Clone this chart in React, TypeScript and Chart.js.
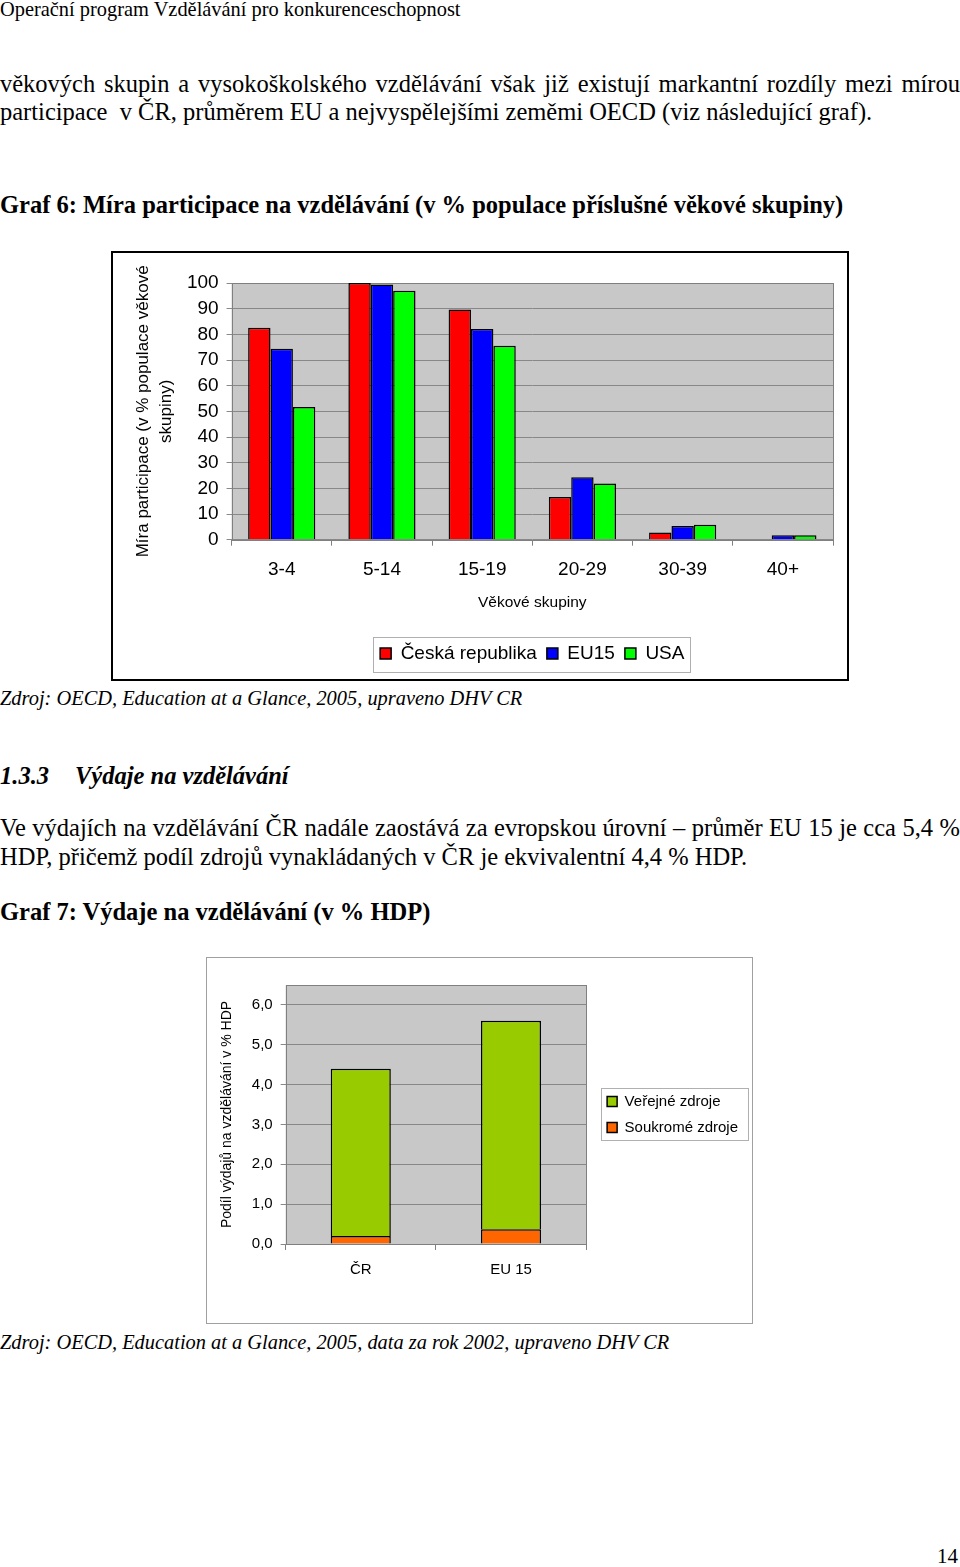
import React, { useEffect, useRef } from 'react';
import { Chart, registerables } from 'chart.js';

Chart.register(...registerables);

// ---------- data: Graf 6 ----------
const ageGroups = ['3-4', '5-14', '15-19', '20-29', '30-39', '40+'];
const czValues = [82.6, 100, 89.7, 16.6, 2.8, null];
const eu15Values = [74.4, 99.4, 82.1, 24.3, 5.3, 1.7];
const usaValues = [51.7, 97.0, 75.6, 21.9, 5.8, 1.7];
const participationSeries = ['Česká republika', 'EU15', 'USA'];

// ---------- data: Graf 7 ----------
const regions = ['ČR', 'EU 15'];
const publicValues = [4.2, 5.23];
const privateValues = [0.2, 0.37];
const spendingSeries = ['Veřejné zdroje', 'Soukromé zdroje'];

const SANS = '"Liberation Sans", Arial, sans-serif';
const SERIF = '"Liberation Serif", "Times New Roman", serif';

const plotBg = {
  id: 'plotBg',
  beforeDraw(chart: any, _a: any, opts: any) {
    const { ctx, chartArea: a } = chart;
    ctx.save();
    ctx.fillStyle = opts.color;
    ctx.fillRect(a.left, a.top, a.width, a.height);
    ctx.restore();
  },
  beforeDatasetsDraw(chart: any, _a: any, opts: any) {
    const { ctx, chartArea: a } = chart;
    ctx.save();
    ctx.strokeStyle = opts.border;
    ctx.lineWidth = 1;
    ctx.strokeRect(Math.round(a.left) + 0.5, Math.round(a.top) + 0.5, Math.round(a.width), Math.round(a.height));
    ctx.restore();
  },
};

const legendShift = {
  id: 'legendShift',
  afterLayout(chart: any, _a: any, opts: any) {
    const lg = chart.legend;
    if (!lg || !opts || !opts.dx) return;
    lg.left += opts.dx;
    lg.right += opts.dx;
  },
};

const legendFrame = {
  id: 'legendFrame',
  afterDraw(chart: any, _a: any, opts: any) {
    const lg = chart.legend;
    if (!lg || !lg.legendHitBoxes || !lg.legendHitBoxes.length) return;
    let x0 = Infinity, y0 = Infinity, x1 = -Infinity, y1 = -Infinity;
    lg.legendHitBoxes.forEach((h: any) => {
      x0 = Math.min(x0, h.left);
      y0 = Math.min(y0, h.top);
      x1 = Math.max(x1, h.left + h.width);
      y1 = Math.max(y1, h.top + h.height);
    });
    const { ctx } = chart;
    ctx.save();
    ctx.strokeStyle = opts.color;
    ctx.lineWidth = 1;
    ctx.strokeRect(
      Math.round(x0 - opts.padL) + 0.5,
      Math.round(y0 - opts.padT) + 0.5,
      Math.round(x1 - x0 + opts.padL + opts.padR),
      Math.round(y1 - y0 + opts.padT + opts.padB)
    );
    ctx.restore();
  },
};

function ParticipationChart() {
  const ref = useRef<HTMLCanvasElement>(null);
  useEffect(() => {
    const colors = ['#ff0000', '#0000ff', '#00ff00'];
    const values = [czValues, eu15Values, usaValues];
    const chart = new Chart(ref.current as HTMLCanvasElement, {
      type: 'bar',
      data: {
        labels: ageGroups,
        datasets: participationSeries.map((name, i) => ({
          label: name,
          data: values[i] as any,
          backgroundColor: colors[i],
          borderColor: '#000000',
          borderWidth: 1.5,
          categoryPercentage: 0.67,
          barPercentage: 1,
        })),
      },
      options: {
        animation: false,
        responsive: false,
        devicePixelRatio: 1,
        layout: { padding: { left: 19, right: 14, top: 30, bottom: 6 } },
        scales: {
          x: {
            grid: { display: true, drawOnChartArea: false, tickLength: 6, color: '#808080' },
            border: { display: false },
            ticks: { font: { family: SANS, size: 19 }, color: '#000', padding: 13, autoSkip: false },
            title: {
              display: true,
              text: 'Věkové skupiny',
              font: { family: SANS, size: 15.5, lineHeight: 1.0 },
              color: '#000',
              padding: { top: 0, bottom: 24 },
            },
          },
          y: {
            min: 0,
            max: 100,
            ticks: { stepSize: 10, font: { family: SANS, size: 19 }, color: '#000', padding: 8, autoSkip: false },
            grid: { color: '#888888', tickLength: 5 },
            border: { display: false },
            title: {
              display: true,
              text: ['Míra participace (v % populace věkové', 'skupiny)'],
              font: { family: SANS, size: 17, lineHeight: 1.35 },
              color: '#000',
              padding: { top: 0, bottom: 1 },
            },
          },
        },
        plugins: {
          legend: {
            position: 'bottom',
            fullSize: false,
            labels: {
              boxWidth: 11,
              boxHeight: 11,
              color: '#000',
              font: { family: SANS, size: 19 },
              padding: 10,
            },
          },
          tooltip: { enabled: false },
          plotBg: { color: '#c8c8c8', border: '#808080' },
          legendFrame: { color: '#b0b0b0', padL: 7, padR: 6, padT: 7, padB: 9 },
        } as any,
      },
      plugins: [plotBg, legendFrame],
    });
    return () => chart.destroy();
  }, []);
  return <canvas ref={ref} width={734} height={426} style={{ display: 'block' }} />;
}

function SpendingChart() {
  const ref = useRef<HTMLCanvasElement>(null);
  useEffect(() => {
    const chart = new Chart(ref.current as HTMLCanvasElement, {
      type: 'bar',
      data: {
        labels: regions,
        datasets: [
          {
            label: spendingSeries[1],
            data: privateValues,
            backgroundColor: '#ff6600',
            borderColor: '#000000',
            borderWidth: 1.5,
            categoryPercentage: 0.4,
            barPercentage: 1,
          },
          {
            label: spendingSeries[0],
            data: publicValues,
            backgroundColor: '#99cc00',
            borderColor: '#000000',
            borderWidth: 1.5,
            categoryPercentage: 0.4,
            barPercentage: 1,
          },
        ],
      },
      options: {
        animation: false,
        responsive: false,
        devicePixelRatio: 1,
        layout: { padding: { left: 12, right: 14, top: 27, bottom: 33 } },
        scales: {
          x: {
            stacked: true,
            grid: { display: true, drawOnChartArea: false, tickLength: 6, color: '#808080' },
            border: { display: false },
            ticks: { font: { family: SANS, size: 15 }, color: '#000', padding: 11 },
          },
          y: {
            stacked: true,
            min: 0,
            max: 6.5,
            afterBuildTicks: (s: any) => {
              s.ticks = s.ticks.filter((t: any) => Number.isInteger(t.value));
            },
            ticks: {
              stepSize: 1,
              autoSkip: false,
              font: { family: SANS, size: 15 },
              color: '#000',
              padding: 8,
              callback: (v: any) => Number(v).toFixed(1).replace('.', ','),
            },
            grid: { color: '#888888', tickLength: 5 },
            border: { display: false },
            title: {
              display: true,
              text: 'Podíl výdajů na vzdělávání v % HDP',
              font: { family: SANS, size: 14 },
              color: '#000',
              padding: { top: 0, bottom: 8 },
            },
          },
        },
        plugins: {
          legend: {
            position: 'right',
            fullSize: false,
            reverse: true,
            maxWidth: 220,
            labels: {
              boxWidth: 10,
              boxHeight: 10,
              color: '#000',
              font: { family: SANS, size: 15 },
              padding: 11,
            },
          },
          tooltip: { enabled: false },
          plotBg: { color: '#c8c8c8', border: '#808080' },
          legendShift: { dx: 10 },
          legendFrame: { color: '#b0b0b0', padL: 6, padR: 10, padT: 6, padB: 5 },
        } as any,
      },
      plugins: [plotBg, legendShift, legendFrame],
    });
    return () => chart.destroy();
  }, []);
  return <canvas ref={ref} width={545} height={365} style={{ display: 'block' }} />;
}

function Line(props: { cy: number; size: number; left?: number; bold?: boolean; italic?: boolean; justify?: boolean; children: any }) {
  const { cy, size, left = 0, bold, italic, justify, children } = props;
  return (
    <div
      style={{
        position: 'absolute',
        left,
        top: cy - size * 0.54,
        width: justify ? 960 : undefined,
        fontFamily: SERIF,
        fontSize: size,
        lineHeight: `${size}px`,
        fontWeight: bold ? 'bold' : 'normal',
        fontStyle: italic ? 'italic' : 'normal',
        whiteSpace: justify ? 'normal' : 'pre',
        textAlign: justify ? 'justify' : 'left',
        textAlignLast: justify ? ('justify' as any) : undefined,
        color: '#000',
      }}
    >
      {children}
    </div>
  );
}

export default function App() {
  return (
    <div style={{ position: 'absolute', left: 0, top: 0, width: 960, height: 1567, background: '#fff', overflow: 'hidden' }}>
      <Line cy={10} size={20.4}>Operační program Vzdělávání pro konkurenceschopnost</Line>
      <Line cy={85} size={24.5} justify>
        věkových skupin a vysokoškolského vzdělávání však již existují markantní rozdíly mezi mírou
      </Line>
      <Line cy={113} size={24.5}>participace  v ČR, průměrem EU a nejvyspělejšími zeměmi OECD (viz následující graf).</Line>
      <Line cy={206} size={24.5} bold>
        Graf 6: Míra participace na vzdělávání (v % populace příslušné věkové skupiny)
      </Line>

      <div style={{ position: 'absolute', left: 111, top: 251, width: 734, height: 426, border: '2px solid #000' }}>
        <ParticipationChart />
      </div>

      <Line cy={699} size={20.4} italic>
        Zdroj: OECD, Education at a Glance, 2005, upraveno DHV CR
      </Line>
      <Line cy={777} size={24.5} bold italic>1.3.3</Line>
      <Line cy={777} size={24.5} left={75} bold italic>Výdaje na vzdělávání</Line>
      <Line cy={829} size={24.5} justify>
        Ve výdajích na vzdělávání ČR nadále zaostává za evropskou úrovní – průměr EU 15 je cca 5,4 %
      </Line>
      <Line cy={858} size={24.5}>HDP, přičemž podíl zdrojů vynakládaných v ČR je ekvivalentní 4,4 % HDP.</Line>
      <Line cy={913} size={24.5} bold>Graf 7: Výdaje na vzdělávání (v % HDP)</Line>

      <div style={{ position: 'absolute', left: 206, top: 957, width: 545, height: 365, border: '1px solid #a0a0a0' }}>
        <SpendingChart />
      </div>

      <Line cy={1343} size={20.4} italic>
        Zdroj: OECD, Education at a Glance, 2005, data za rok 2002, upraveno DHV CR
      </Line>
      <Line cy={1557} size={21} left={937}>14</Line>
    </div>
  );
}
